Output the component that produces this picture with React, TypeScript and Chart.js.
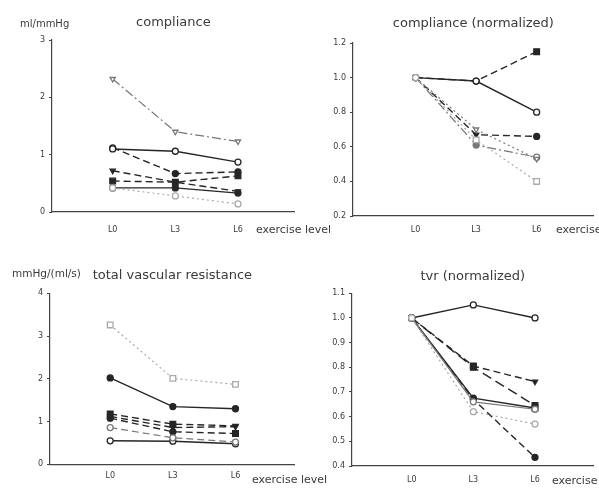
import React, { useEffect, useRef } from 'react';
import { Chart, registerables } from 'chart.js';
Chart.register(...registerables);

// ---------- data ----------
const LEVELS = [0, 3, 6];
const LEVEL_LABELS = ['L0', 'L3', 'L6'];

// compliance (ml/mmHg)
const complianceA = [2.32, 1.40, 1.23];
const complianceB = [1.10, 1.06, 0.87];
const complianceC = [1.12, 0.67, 0.70];
const complianceD = [0.72, 0.52, 0.36];
const complianceE = [0.54, 0.52, 0.63];
const complianceF = [0.42, 0.42, 0.33];
const complianceG = [0.42, 0.28, 0.14];

// compliance (normalized)
const complianceNormA = [1.0, 0.98, 1.15];
const complianceNormB = [1.0, 0.98, 0.80];
const complianceNormC = [1.0, 0.67, 0.66];
const complianceNormD = [1.0, 0.61, 0.54];
const complianceNormE = [1.0, 0.70, 0.53];
const complianceNormF = [1.0, 0.64, 0.40];

// total vascular resistance (mmHg/(ml/s))
const tvrA = [3.26, 2.01, 1.87];
const tvrB = [2.02, 1.35, 1.30];
const tvrC = [1.18, 0.94, 0.90];
const tvrD = [1.12, 0.86, 0.88];
const tvrE = [1.08, 0.76, 0.72];
const tvrF = [0.86, 0.62, 0.52];
const tvrG = [0.55, 0.54, 0.48];

// tvr (normalized)
const tvrNormA = [1.0, 1.053, 1.0];
const tvrNormB = [1.0, 0.805, 0.742];
const tvrNormC = [1.0, 0.80, 0.645];
const tvrNormD = [1.0, 0.675, 0.635];
const tvrNormE = [1.0, 0.66, 0.63];
const tvrNormF = [1.0, 0.67, 0.435];
const tvrNormG = [1.0, 0.62, 0.57];

// ---------- styles ----------
const FONT = "'DejaVu Sans', sans-serif";
const TEXT = '#3a3a3a';
const DARK = '#262626';
const MID = '#777';
const LIGHT = '#aaa';
const SOLID: number[] = [];
const DASH = [7, 4];
const DASHDOT = [9, 3, 2, 3];
const DOT = [2, 3];

type Mk = 'co' | 'cf' | 'sf' | 'so' | 'tf' | 'to';
interface SeriesStyle { color: string; dash: number[]; marks: Mk[]; }

function makeDataset(values: number[], st: SeriesStyle) {
  const styleOf = (m: Mk) => (m[0] === 'c' ? 'circle' : m[0] === 's' ? 'rect' : 'triangle');
  return {
    data: LEVELS.map((x, i) => ({ x, y: values[i] })),
    borderColor: st.color,
    borderWidth: st.color === DARK ? 1.4 : 1.2,
    borderDash: st.dash,
    pointStyle: st.marks.map(styleOf),
    pointRotation: st.marks.map((m) => (m[0] === 't' ? 180 : 0)),
    pointRadius: st.marks.map((m) => (m[0] === 's' ? 4 : 3)),
    pointBackgroundColor: st.marks.map((m) => (m[1] === 'f' ? st.color : '#fff')),
    pointBorderColor: st.color,
    pointBorderWidth: 1.3,
    fill: false,
    tension: 0,
  };
}

interface PanelCfg {
  title: string;
  yMin: number; yMax: number; yStep: number; yDec: number;
  xMin: number; xMax: number;
  yAxisWidth: number; xAxisHeight: number;
  titlePadTop: number; titlePadBottom: number;
  xLabelPad: number; rightPad: number;
  series: [number[], SeriesStyle][];
}

const panels: { cfg: PanelCfg; left: number; top: number; width: number; height: number }[] = [
  {
    left: 0, top: 0, width: 300, height: 245,
    cfg: {
      title: 'compliance', yMin: 0, yMax: 3, yStep: 1, yDec: 0,
      xMin: -2.905, xMax: 8.716, yAxisWidth: 52, xAxisHeight: 33,
      titlePadTop: 15, titlePadBottom: 9.4, xLabelPad: 13, rightPad: 2,
      series: [
        [complianceG, { color: LIGHT, dash: DOT, marks: ['co', 'co', 'co'] }],
        [complianceA, { color: MID, dash: DASHDOT, marks: ['to', 'to', 'to'] }],
        [complianceB, { color: DARK, dash: SOLID, marks: ['co', 'co', 'co'] }],
        [complianceC, { color: DARK, dash: DASH, marks: ['co', 'cf', 'cf'] }],
        [complianceD, { color: DARK, dash: DASH, marks: ['tf', 'tf', 'tf'] }],
        [complianceE, { color: DARK, dash: DASH, marks: ['sf', 'sf', 'sf'] }],
        [complianceF, { color: DARK, dash: SOLID, marks: ['co', 'cf', 'cf'] }],
      ],
    },
  },
  {
    left: 300, top: 0, width: 299, height: 245,
    cfg: {
      title: 'compliance (normalized)', yMin: 0.2, yMax: 1.2, yStep: 0.2, yDec: 1,
      xMin: -3.104, xMax: 8.827, yAxisWidth: 53, xAxisHeight: 29,
      titlePadTop: 16, titlePadBottom: 11.4, xLabelPad: 9, rightPad: 0,
      series: [
        [complianceNormF, { color: LIGHT, dash: DOT, marks: ['co', 'so', 'so'] }],
        [complianceNormE, { color: MID, dash: DOT, marks: ['co', 'to', 'to'] }],
        [complianceNormD, { color: MID, dash: DASHDOT, marks: ['co', 'cf', 'co'] }],
        [complianceNormC, { color: DARK, dash: DASH, marks: ['co', 'tf', 'cf'] }],
        [complianceNormA, { color: DARK, dash: DASH, marks: ['co', 'co', 'sf'] }],
        [complianceNormB, { color: DARK, dash: SOLID, marks: ['co', 'co', 'co'] }],
      ],
    },
  },
  {
    left: 0, top: 245, width: 300, height: 244,
    cfg: {
      title: 'total vascular resistance', yMin: 0, yMax: 4, yStep: 1, yDec: 0,
      xMin: -2.882, xMax: 8.834, yAxisWidth: 50, xAxisHeight: 24.7,
      titlePadTop: 23.2, titlePadBottom: 9.5, xLabelPad: 7, rightPad: 2,
      series: [
        [tvrA, { color: LIGHT, dash: DOT, marks: ['so', 'so', 'so'] }],
        [tvrF, { color: MID, dash: DASH, marks: ['co', 'co', 'co'] }],
        [tvrG, { color: DARK, dash: SOLID, marks: ['co', 'co', 'co'] }],
        [tvrE, { color: DARK, dash: DASH, marks: ['cf', 'cf', 'sf'] }],
        [tvrD, { color: DARK, dash: DASH, marks: ['tf', 'tf', 'tf'] }],
        [tvrC, { color: DARK, dash: DASH, marks: ['sf', 'sf', 'tf'] }],
        [tvrB, { color: DARK, dash: SOLID, marks: ['cf', 'cf', 'cf'] }],
      ],
    },
  },
  {
    left: 300, top: 245, width: 299, height: 244,
    cfg: {
      title: 'tvr (normalized)', yMin: 0.4, yMax: 1.1, yStep: 0.1, yDec: 1,
      xMin: -2.905, xMax: 8.857, yAxisWidth: 52, xAxisHeight: 23,
      titlePadTop: 24.2, titlePadBottom: 8.5, xLabelPad: 9, rightPad: 0,
      series: [
        [tvrNormG, { color: LIGHT, dash: DOT, marks: ['co', 'co', 'co'] }],
        [tvrNormE, { color: MID, dash: SOLID, marks: ['co', 'co', 'co'] }],
        [tvrNormC, { color: DARK, dash: [10, 5], marks: ['co', 'sf', 'sf'] }],
        [tvrNormF, { color: DARK, dash: DASH, marks: ['co', 'cf', 'cf'] }],
        [tvrNormD, { color: DARK, dash: SOLID, marks: ['co', 'cf', 'sf'] }],
        [tvrNormB, { color: DARK, dash: DASH, marks: ['co', 'sf', 'tf'] }],
        [tvrNormA, { color: DARK, dash: SOLID, marks: ['co', 'co', 'co'] }],
      ],
    },
  },
];

function Panel({ cfg, left, top, width, height }: { cfg: PanelCfg; left: number; top: number; width: number; height: number }) {
  const ref = useRef<HTMLCanvasElement>(null);
  useEffect(() => {
    const chart = new Chart(ref.current as HTMLCanvasElement, {
      type: 'line',
      data: { datasets: cfg.series.map(([v, s]) => makeDataset(v, s)) as any },
      options: {
        animation: false,
        responsive: false,
        maintainAspectRatio: false,
        layout: { padding: { left: 0, right: cfg.rightPad, top: 0, bottom: 0 } },
        plugins: {
          legend: { display: false },
          tooltip: { enabled: false },
          title: {
            display: true,
            text: cfg.title,
            fullSize: false,
            color: TEXT,
            font: { family: FONT, size: 13, weight: 'normal' },
            padding: { top: cfg.titlePadTop, bottom: cfg.titlePadBottom },
          },
        },
        scales: {
          x: {
            type: 'linear',
            min: cfg.xMin,
            max: cfg.xMax,
            afterBuildTicks: (axis: any) => {
              axis.ticks = LEVELS.map((v) => ({ value: v }));
            },
            afterFit: (axis: any) => {
              axis.height = cfg.xAxisHeight;
            },
            ticks: {
              autoSkip: false,
              maxRotation: 0,
              padding: cfg.xLabelPad,
              color: TEXT,
              font: { family: FONT, size: 8 },
              callback: (v: any) => {
                const i = LEVELS.indexOf(Number(v));
                return i >= 0 ? LEVEL_LABELS[i] : '';
              },
            },
            grid: { display: false, drawTicks: false },
            border: { display: true, color: '#444', width: 1.2 },
          },
          y: {
            type: 'linear',
            min: cfg.yMin,
            max: cfg.yMax,
            afterFit: (axis: any) => {
              axis.width = cfg.yAxisWidth;
            },
            ticks: {
              stepSize: cfg.yStep,
              padding: 4,
              color: TEXT,
              font: { family: FONT, size: 8 },
              callback: (v: any) => Number(v).toFixed(cfg.yDec),
            },
            grid: { display: true, drawOnChartArea: false, drawTicks: true, tickLength: 3, color: '#444' },
            border: { display: true, color: '#444', width: 1.2 },
          },
        },
      } as any,
    });
    return () => chart.destroy();
  }, []);
  return (
    <canvas
      ref={ref}
      width={width}
      height={height}
      style={{ position: 'absolute', left, top, width, height }}
    />
  );
}

const labelStyle = (left: number, top: number, size: number): React.CSSProperties => ({
  position: 'absolute',
  left,
  top,
  fontFamily: FONT,
  fontSize: size,
  lineHeight: '12px',
  color: TEXT,
  whiteSpace: 'nowrap',
});

export default function App() {
  return (
    <div
      style={{
        position: 'absolute',
        left: 0,
        top: 0,
        width: 599,
        height: 489,
        background: '#fff',
        overflow: 'hidden',
      }}
    >
      {panels.map((p, i) => (
        <Panel key={i} cfg={p.cfg} left={p.left} top={p.top} width={p.width} height={p.height} />
      ))}
      <div style={labelStyle(20, 18, 10)}>ml/mmHg</div>
      <div style={labelStyle(12, 267, 10.5)}>mmHg/(ml/s)</div>
      <div style={labelStyle(256, 224, 11)}>exercise level</div>
      <div style={labelStyle(556, 224, 11)}>exercise level</div>
      <div style={labelStyle(252, 474, 11)}>exercise level</div>
      <div style={labelStyle(552, 475, 11)}>exercise level</div>
    </div>
  );
}
